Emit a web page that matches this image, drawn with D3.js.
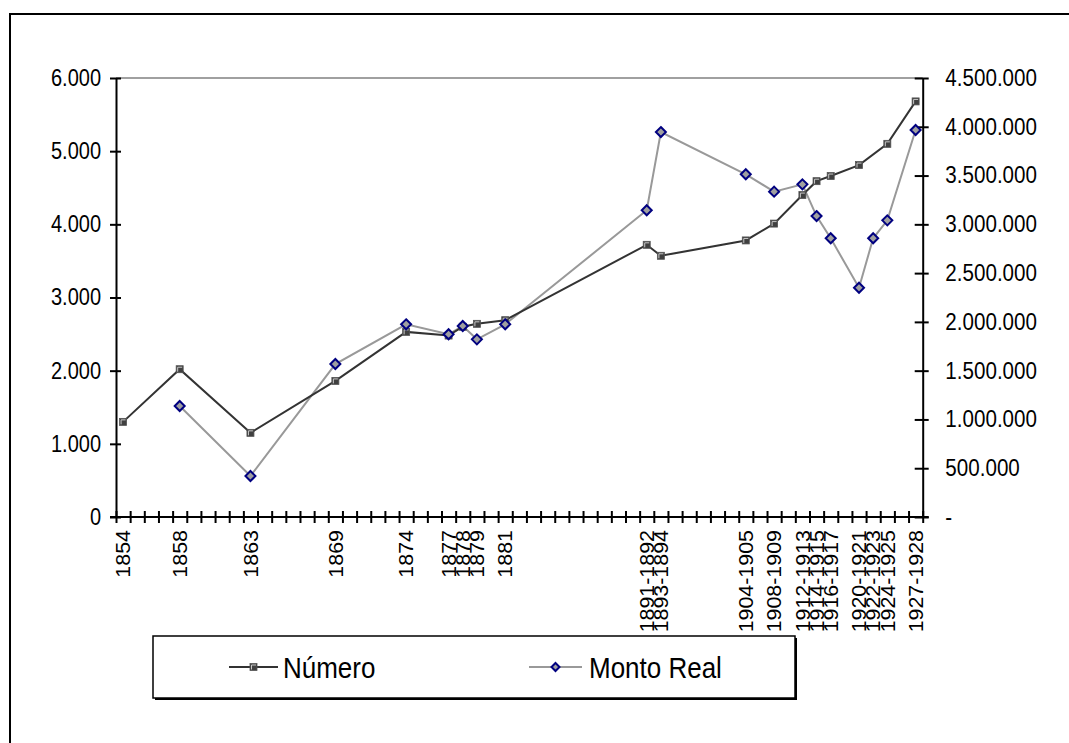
<!DOCTYPE html>
<html>
<head>
<meta charset="utf-8">
<script src="https://cdn.jsdelivr.net/npm/d3@7"></script>
<style>
  html, body { margin: 0; padding: 0; background: #fff; }
  svg { display: block; font-family: "Liberation Sans", Arial, sans-serif; }
</style>
</head>
<body>
<svg id="chart" width="1069" height="743"></svg>
<script>
// Category slots of the horizontal axis (blank slots carry no label)
const categories = [
  "1854", "", "", "", "1858", "", "", "", "", "1863",
  "", "", "", "", "", "1869", "", "", "", "",
  "1874", "", "", "1877", "1878", "1879", "", "1881", "", "",
  "", "", "", "", "", "", "", "1891-1892", "1893-1894", "",
  "", "", "", "", "1904-1905", "", "1908-1909", "", "1912-1913", "1914-1915",
  "1916-1917", "", "1920-1921", "1922-1923", "1924-1925", "", "1927-1928"
];

// Periods that carry observations
const periods = [
  "1854", "1858", "1863", "1869", "1874", "1877", "1878", "1879", "1881",
  "1891-1892", "1893-1894", "1904-1905", "1908-1909", "1912-1913",
  "1914-1915", "1916-1917", "1920-1921", "1922-1923", "1924-1925", "1927-1928"
];

// Número (left axis)
const numero = [
  1300, 2020, 1150, 1860, 2530, 2480, 2600, 2640, 2690,
  3720, 3570, 3780, 4010, 4400,
  4590, 4660, 4810, null, 5100, 5680
];

// Monto Real (right axis)
const montoReal = [
  null, 1138000, 420000, 1568000, 1975000, 1873000, 1958000, 1821000, 1975000,
  3144000, 3946000, 3513000, 3335000, 3410000,
  3085000, 2857000, 2350000, 2857000, 3041000, 3967000
];

const leftTicks = [0, 1000, 2000, 3000, 4000, 5000, 6000];
const rightTicks = [0, 500000, 1000000, 1500000, 2000000, 2500000, 3000000, 3500000, 4000000, 4500000];
const seriesNames = ["Número", "Monto Real"];

const svg = d3.select("#chart");
const M = { left: 116, right: 922.7, top: 78, bottom: 517 };
const FONT = "Liberation Sans, Arial, sans-serif";

const locale = d3.formatLocale({ decimal: ",", thousands: ".", grouping: [3], currency: ["", ""] });
const fmt = locale.format(",.0f");

const slots = d3.range(categories.length);
const x = d3.scaleBand().domain(slots).range([M.left, M.right]).padding(0);
const xEdge = d3.scaleLinear().domain([0, categories.length]).range([M.left, M.right]);
const yL = d3.scaleLinear().domain([0, 6000]).range([M.bottom, M.top]);
const yR = d3.scaleLinear().domain([0, 4500000]).range([M.bottom, M.top]);

const cx = p => x(categories.indexOf(p)) + x.bandwidth() / 2;

// Outer chart frame
svg.append("rect")
  .attr("x", 10).attr("y", 14).attr("width", 1100).attr("height", 800)
  .attr("fill", "none").attr("stroke", "#000").attr("stroke-width", 2);

// Plot area top edge
svg.append("line")
  .attr("x1", M.left).attr("x2", M.right).attr("y1", M.top).attr("y2", M.top)
  .attr("stroke", "#a0a0a0").attr("stroke-width", 2);

const tickFont = "20px";

// Left axis
const gL = svg.append("g").attr("transform", `translate(${M.left},0)`)
  .call(d3.axisLeft(yL).tickValues(leftTicks).tickFormat(fmt).tickSizeInner(6).tickSizeOuter(0).tickPadding(9));
gL.selectAll(".tick line").attr("x1", 5).attr("stroke-width", 2);
gL.select(".domain").attr("stroke-width", 2);
gL.selectAll("text").attr("font-size", tickFont).attr("fill", "#000").attr("font-family", FONT)
  .attr("transform", "scale(1,1.15)");

// Right axis
const gR = svg.append("g").attr("transform", `translate(${M.right},0)`)
  .call(d3.axisRight(yR).tickValues(rightTicks).tickFormat(d => d === 0 ? "-" : fmt(d)).tickSizeInner(6).tickSizeOuter(0).tickPadding(16));
gR.selectAll(".tick line").attr("x1", -8).attr("stroke-width", 2);
gR.select(".domain").attr("stroke-width", 2);
gR.selectAll("text").attr("font-size", tickFont).attr("fill", "#000").attr("font-family", FONT)
  .attr("transform", "scale(1.03,1.15)");

// Category axis: tick marks between slots
const gX = svg.append("g").attr("transform", `translate(0,${M.bottom})`)
  .call(d3.axisBottom(xEdge).tickValues(d3.range(categories.length + 1)).tickFormat("").tickSizeInner(6).tickSizeOuter(0));
gX.selectAll(".tick line").attr("y1", -6).attr("stroke-width", 2);
gX.select(".domain").attr("stroke-width", 2).attr("d", `M${M.left - 6},0H${M.right + 6}`);

// Category labels
const gXL = svg.append("g").attr("transform", `translate(0,${M.bottom})`)
  .call(d3.axisBottom(x).tickFormat(i => categories[i]).tickSize(0));
gXL.select(".domain").remove();
gXL.selectAll("text")
  .attr("font-size", tickFont).attr("fill", "#000").attr("font-family", FONT)
  .attr("text-anchor", "end")
  .attr("transform", "rotate(-90) scale(1.07,1)")
  .attr("x", -12.2).attr("y", 0).attr("dy", "0.36em");

// Series lines
const ptsN = periods.map((p, i) => ({ p, v: numero[i] })).filter(d => d.v != null);
const ptsM = periods.map((p, i) => ({ p, v: montoReal[i] })).filter(d => d.v != null);

const lineN = d3.line().x(d => cx(d.p)).y(d => yL(d.v));
const lineM = d3.line().x(d => cx(d.p)).y(d => yR(d.v));

svg.append("path").datum(ptsM).attr("d", lineM)
  .attr("fill", "none").attr("stroke", "#999").attr("stroke-width", 2);
svg.append("path").datum(ptsN).attr("d", lineN)
  .attr("fill", "none").attr("stroke", "#333").attr("stroke-width", 2);

function squareMarker(g, px, py) {
  g.append("rect").attr("x", px - 3.5).attr("y", py - 3.5).attr("width", 7).attr("height", 7)
    .attr("fill", "#404040").attr("stroke", "#555").attr("stroke-width", 0.8);
  g.append("path").attr("d", `M${px - 2},${py + 2.5}V${py - 2}H${px + 2.5}`)
    .attr("fill", "none").attr("stroke", "#c8c8c8").attr("stroke-width", 1);
}
function diamondMarker(g, px, py, r) {
  g.append("path").attr("d", `M${px},${py - r}L${px + r},${py}L${px},${py + r}L${px - r},${py}Z`)
    .attr("fill", "#a0a0a0").attr("stroke", "#000080").attr("stroke-width", 2);
}

const gMN = svg.append("g");
ptsN.forEach(d => squareMarker(gMN, cx(d.p), yL(d.v)));
const gMM = svg.append("g");
ptsM.forEach(d => diamondMarker(gMM, cx(d.p), yR(d.v), 5));

// Legend
const lg = svg.append("g");
lg.append("rect").attr("x", 155).attr("y", 638).attr("width", 642).attr("height", 62).attr("fill", "#000");
lg.append("rect").attr("x", 153).attr("y", 636).attr("width", 642).attr("height", 62)
  .attr("fill", "#fff").attr("stroke", "#000").attr("stroke-width", 1.5);

const legY = 667;
lg.append("line").attr("x1", 229).attr("x2", 278).attr("y1", legY).attr("y2", legY)
  .attr("stroke", "#333").attr("stroke-width", 2);
squareMarker(lg, 253.5, legY);
lg.append("text").attr("transform", `translate(283,${legY}) scale(1,1.15)`).attr("dy", "0.36em")
  .attr("font-size", "26px").attr("font-family", FONT).text(seriesNames[0]);

lg.append("line").attr("x1", 529).attr("x2", 582).attr("y1", legY).attr("y2", legY)
  .attr("stroke", "#999").attr("stroke-width", 2);
diamondMarker(lg, 555.5, legY, 4);
lg.append("text").attr("transform", `translate(589,${legY}) scale(1,1.15)`).attr("dy", "0.36em")
  .attr("font-size", "26px").attr("font-family", FONT).text(seriesNames[1]);
</script>
</body>
</html>
